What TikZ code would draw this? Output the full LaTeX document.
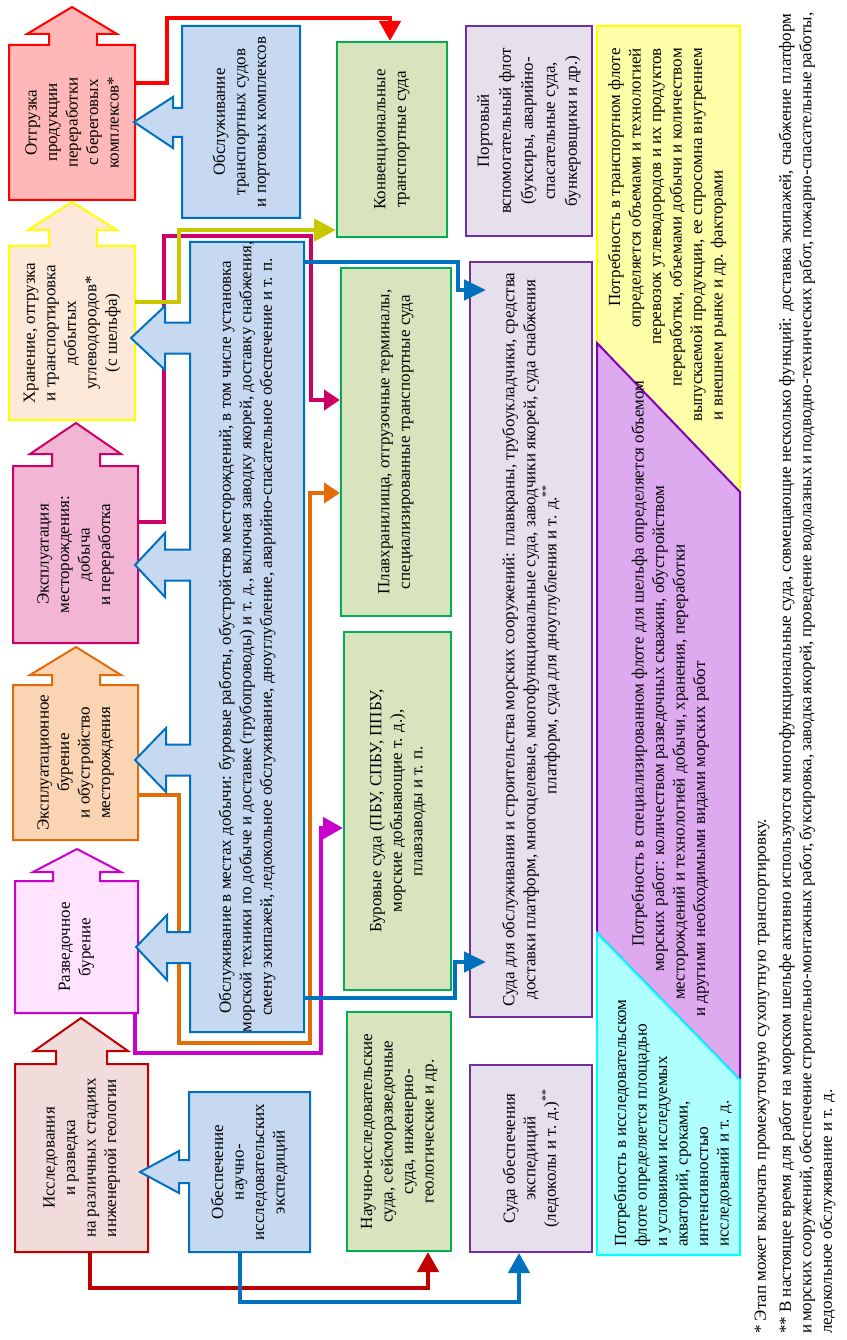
\documentclass[tikz,border=0pt]{standalone}
\usepackage{fontspec}
\setmainfont{Liberation Serif}
\usetikzlibrary{arrows.meta,calc}
\pgfdeclarelayer{bg}
\pgfdeclarelayer{shp}
\pgfsetlayers{bg,shp,main}
\newcommand\fsz{\fontsize{17}{20.5}\selectfont}
\definecolor{cRed}{HTML}{FF0000}
\definecolor{cSsix}{HTML}{FFB7B7}
\definecolor{cSfive}{HTML}{FDE9D9}
\definecolor{cYel}{HTML}{FFFF00}
\definecolor{cSfour}{HTML}{F2B5D3}
\definecolor{cCrim}{HTML}{CC0066}
\definecolor{cSthree}{HTML}{FBD4B4}
\definecolor{cOra}{HTML}{E36C09}
\definecolor{cStwo}{HTML}{FFE3FF}
\definecolor{cMag}{HTML}{CC00CC}
\definecolor{cSone}{HTML}{F2DCDB}
\definecolor{cDRed}{HTML}{C00000}
\definecolor{cBlueF}{HTML}{C6D9F1}
\definecolor{cBlue}{HTML}{0070C0}
\definecolor{cGrnF}{HTML}{D7E4BD}
\definecolor{cGrn}{HTML}{00B050}
\definecolor{cPrpF}{HTML}{E5E0EC}
\definecolor{cPrp}{HTML}{7030A0}
\definecolor{cYelF}{HTML}{FFFFAA}
\definecolor{cVioF}{HTML}{DDA9EF}
\definecolor{cVio}{HTML}{8000C0}
\definecolor{cCyaF}{HTML}{B0FFFF}
\definecolor{cCya}{HTML}{00FFFF}
\definecolor{cOlive}{HTML}{C8C800}
\begin{document}
\begin{tikzpicture}[x=1pt,y=-1pt,
  txt/.style={rotate=90, inner sep=0pt, align=center, font=\fsz},
  gbox/.style={txt, draw=cGrn, fill=cGrnF, line width=2pt},
  pbox/.style={txt, draw=cPrp, fill=cPrpF, line width=2pt},
  shp/.style={line width=2pt, line join=miter},
  conn/.style={line width=4.5pt, -{Triangle[width=21pt,length=20pt]}},
  ftxt/.style={rotate=90, inner sep=0pt, font=\fsz, align=left, anchor=west}]
\begin{pgfonlayer}{bg}
\useasboundingbox (0,0) rectangle (846,1340);
\fill[white] (0,0) rectangle (846,1340);
\end{pgfonlayer}

% text nodes (geometry of bodies)
\node[txt, minimum width=155pt, minimum height=126pt] (s6) at (72,122.5) {Отгрузка\\продукции\\переработки\\с береговых\\комплексов*};
\node[txt, minimum width=174pt, minimum height=126pt] (s5) at (72,333) {Хранение, отгрузка\\и транспортировка\\добытых\\углеводородов*\\(с шельфа)};
\node[txt, minimum width=177pt, minimum height=125pt] (s4) at (75.5,554.5) {Эксплуатация\\месторождения:\\добыча\\и переработка};
\node[txt, minimum width=155pt, minimum height=125pt] (s3) at (75.5,762.5) {Эксплуатационное\\бурение\\и обустройство\\месторождения};
\node[txt, minimum width=132pt, minimum height=123pt] (s2) at (76.5,947) {Разведочное\\бурение};
\node[txt, minimum width=188pt, minimum height=133pt] (s1) at (81.5,1158) {Исследования\\и разведка\\на различных стадиях\\инженерной геологии};
\node[txt, minimum width=192pt, minimum height=118pt] (a) at (241,122) {Обслуживание\\транспортных судов\\и портовых комплексов};
\node[txt, minimum width=790pt, minimum height=114pt] (b) at (247,637) {Обслуживание в местах добычи: буровые работы, обустройство месторождений, в том числе установка\\морской техники по добыче и доставке (трубопроводы) и т. д., включая заводку якорей, доставку снабжения,\\смену экипажей, ледокольное обслуживание, дноуглубление, аварийно-спасательное обеспечение и т. п.};
\node[txt, minimum width=160pt, minimum height=121pt] (c) at (249.5,1172) {Обеспечение\\научно-\\исследовательских\\экспедиций};

% green boxes
\node[gbox, minimum width=195pt, minimum height=110pt] (g1) at (392,139.5) {Конвенциональные\\транспортные суда};
\node[gbox, minimum width=348pt, minimum height=110pt] (g2) at (396,442) {Плавхранилища, отгрузочные терминалы,\\специализированные транспортные суда};
\node[gbox, minimum width=358pt, minimum height=107pt] (g3) at (397.5,811) {Буровые суда (ПБУ, СПБУ, ППБУ,\\морские добывающие т. д.),\\плавзаводы и т. п.};
\node[gbox, minimum width=239pt, minimum height=104pt] (g4) at (399,1131.5) {Научно-исследовательские\\суда, сейсморазведочные\\суда, инженерно-\\геологические и др.};

% purple boxes
\node[pbox, font={\fontsize{17}{22}\selectfont}, minimum width=210pt, minimum height=126pt] (p1) at (529,131) {Портовый\\вспомогательный флот\\(буксиры, аварийно-\\спасательные суда,\\бункеровщики и др.)};
\node[pbox, font={\fontsize{17}{21}\selectfont}, minimum width=755pt, minimum height=122pt] (p2) at (531,639.5) {Суда для обслуживания и строительства морских сооружений: плавкраны, трубоукладчики, средства\\доставки платформ, многоцелевые, многофункциональные суда, заводчики якорей, суда снабжения\\платформ, суда для дноуглубления и т. д.\textsuperscript{**}};
\node[pbox, minimum width=187pt, minimum height=122pt] (p3) at (531,1158.5) {Суда обеспечения\\экспедиций\\(ледоколы и т. д.)\textsuperscript{**}};

% connectors that pass behind the blue shapes
\begin{pgfonlayer}{bg}
\draw[conn, cCrim, -{Triangle[width=20pt,length=16pt]}] (s4.south |- 0,522) -| (164,236) -| (311,400) -- (g2.north |- 0,400);
\draw[conn, cOra, -{Triangle[width=20pt,length=16pt]}] (s3.south |- 0,795) -| (179,1043) -| (310,493) -- (g2.north |- 0,493);
\end{pgfonlayer}

\begin{pgfonlayer}{shp}
% right column regions
\filldraw[shp, fill=cYelF, draw=cYel] (597,26) -- (740,26) -- (740,492) -- (597,343) -- cycle;
\filldraw[shp, fill=cVioF, draw=cVio] (597,343) -- (740,492) -- (740,1080) -- (597,933) -- cycle;
\filldraw[shp, fill=cCyaF, draw=cCya] (597,933) -- (740,1080) -- (740,1255) -- (597,1255) -- cycle;
% stage shapes
\filldraw[shp, fill=cSsix, draw=cRed] (9,200) -- (9,45) -- (49,45) -- (49,34) -- (27,34) -- (72,7) -- (117,34) -- (97,34) -- (97,45) -- (135,45) -- (135,200) -- cycle;
\filldraw[shp, fill=cSfive, draw=cYel] (9,420) -- (9,246) -- (49,246) -- (49,230) -- (28,230) -- (72,202) -- (117,230) -- (97,230) -- (97,246) -- (135,246) -- (135,420) -- cycle;
\filldraw[shp, fill=cSfour, draw=cCrim] (13,643) -- (13,466) -- (52,466) -- (52,454) -- (30,454) -- (76,423) -- (121,454) -- (100,454) -- (100,466) -- (138,466) -- (138,643) -- cycle;
\filldraw[shp, fill=cSthree, draw=cOra] (13,840) -- (13,685) -- (52,685) -- (52,675) -- (30,675) -- (76,647) -- (121,675) -- (100,675) -- (100,685) -- (138,685) -- (138,840) -- cycle;
\filldraw[shp, fill=cStwo, draw=cMag] (15,1013) -- (15,881) -- (53,881) -- (53,872) -- (33,872) -- (77,849) -- (121,872) -- (100,872) -- (100,881) -- (138,881) -- (138,1013) -- cycle;
\filldraw[shp, fill=cSone, draw=cDRed] (15,1252) -- (15,1064) -- (56,1064) -- (56,1051) -- (34,1051) -- (81,1018) -- (128,1051) -- (107,1051) -- (107,1064) -- (148,1064) -- (148,1252) -- cycle;
% blue shapes
\filldraw[shp, fill=cBlueF, draw=cBlue] (182,26) -- (300,26) -- (300,218) -- (182,218) -- (182,137) -- (173,137) -- (173,148) -- (134,122) -- (173,97) -- (173,108) -- (182,108) -- cycle;
\filldraw[shp, fill=cBlueF, draw=cBlue] (189,1092) -- (310,1092) -- (310,1252) -- (189,1252) -- (189,1183) -- (179,1183) -- (179,1193) -- (140,1172) -- (179,1151) -- (179,1160) -- (189,1160) -- cycle;
\filldraw[shp, fill=cBlueF, draw=cBlue] (190,242) -- (304,242) -- (304,1032) -- (190,1032)
 -- (190,963) -- (167,963) -- (167,980) -- (136,947) -- (167,915) -- (167,932) -- (190,932)
 -- (190,775.5) -- (166,775.5) -- (166,792) -- (135,760) -- (166,728) -- (166,744.5) -- (190,744.5)
 -- (190,580.5) -- (165,580.5) -- (165,597) -- (135,565) -- (165,533) -- (165,549.5) -- (190,549.5)
 -- (190,353.5) -- (165,353.5) -- (165,370) -- (131,338) -- (165,306) -- (165,322.5) -- (190,322.5)
 -- cycle;
\end{pgfonlayer}

% region texts
\node[rotate=90, inner sep=0pt, font=\fsz, align=right, anchor=east] (ytxt) at (667,48) {Потребность в транспортном флоте\\определяется объемами и технологией\\перевозок углеводородов и их продуктов\\переработки, объемами добычи и количеством\\выпускаемой продукции, ее спросомна внутреннем\\\makebox[372pt][l]{и внешнем рынке и др. факторами}};
\node[ftxt] (vtxt) at (670,1017) {\hspace*{70pt}Потребность в специализированном флоте для шельфа определяется объемом\\\hspace*{45pt}морских работ: количеством разведочных скважин, обустройством\\\hspace*{17pt}месторождений и технологией добычи, хранения, переработки\\и другими необходимыми видами морских работ};
\node[ftxt] (ctxt) at (673,1247) {Потребность в исследовательском\\флоте определяется площадью\\и условиями исследуемых\\акваторий, сроками,\\интенсивностью\\исследований и т. д.};

% connectors
\draw[conn, cOlive, -{Triangle[width=22pt,length=22pt]}] (s5.south |- 0,302) -| (179,230) -- (g1.north |- 0,230);
\draw[conn, cRed] (s6.south |- 0,83) -| (167,18) -| (390,0 |- g1.east);
\draw[conn, cMag] (135,0 |- s2.west) |- (321,1053) |- (g3.north |- 0,828);
\draw[conn, cDRed] (90,0 |- s1.west) |- (428,1288) -- (428,0 |- g4.west);
\draw[conn, cBlue] (240,0 |- c.west) |- (519,1302) -- (519,0 |- p3.west);
\draw[conn, cBlue, -{Triangle[width=20pt,length=22pt]}] (b.south |- 0,262) -| (458,290) -- ($(p2.north |- 0,290)+(17,0)$);
\draw[conn, cBlue, -{Triangle[width=20pt,length=22pt]}] (b.south |- 0,998) -| (455,962) -- ($(p2.north |- 0,962)+(17,0)$);

% footnotes
\node[ftxt] (fn1) at (762,1334) {* Этап может включать промежуточную сухопутную транспортировку.};
\node[ftxt] (fn2) at (807,1334) {\makebox[1320pt][s]{** В настоящее время для работ на морском шельфе активно используются многофункциональные суда, совмещающие несколько функций: доставка экипажей, снабжение платформ}\\\makebox[1320pt][s]{и морских сооружений, обеспечение строительно-монтажных работ, буксировка, заводка якорей, проведение водолазных и подводно-технических работ, пожарно-спасательные работы,}\\ледокольное обслуживание и т. д.};
\end{tikzpicture}
\end{document}
